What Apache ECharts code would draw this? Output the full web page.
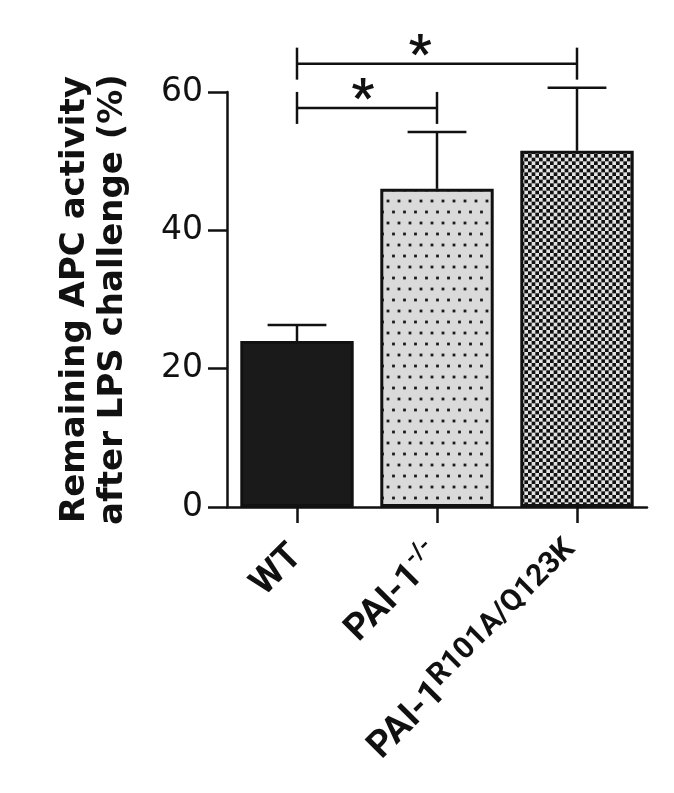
<!DOCTYPE html>
<html>
<head>
<meta charset="utf-8">
<script src="https://cdn.jsdelivr.net/npm/echarts@6/dist/echarts.min.js"></script>
<style>
  html, body { margin: 0; padding: 0; background: #fff; }
  #chart { width: 674px; height: 793px; }
</style>
</head>
<body>
<div id="chart"></div>
<script>
const groups = ['WT', 'PAI-1-/-', 'PAI-1R101A/Q123K'];
const means = [24.0, 46.0, 51.5];
const sems = [2.3, 8.2, 9.1];
const yTicks = [0, 20, 40, 60];
// significance pairs: [from, to, label]
const sigPairs = [[0, 1, '*'], [0, 2, '*']];

const sansFont = 'Roboto';

// bar fill patterns
function dotPattern() {
    const c = document.createElement('canvas');
    c.width = 22; c.height = 22;
    const ctx = c.getContext('2d');
    ctx.fillStyle = '#dadada';
    ctx.fillRect(0, 0, 22, 22);
    ctx.fillStyle = '#1a1a1a';
    [[3, 3], [14, 3], [8.5, 14], [19.5, 14]].forEach(p => ctx.fillRect(p[0] - 1.4, p[1] - 1.4, 2.8, 2.8));
    return c;
}
function checkPattern() {
    const c = document.createElement('canvas');
    c.width = 22; c.height = 22;
    const ctx = c.getContext('2d');
    ctx.fillStyle = '#e2e2e2';
    ctx.fillRect(0, 0, 22, 22);
    ctx.fillStyle = '#111';
    const s = 22 / 6;
    for (let i = 0; i < 6; i++) {
        for (let j = 0; j < 6; j++) {
            if ((i + j) % 2 === 0) ctx.fillRect(i * s, j * s, s, s);
        }
    }
    return c;
}

const fills = ['#1a1a1a', { image: dotPattern(), repeat: 'repeat' }, { image: checkPattern(), repeat: 'repeat' }];

const errData = means.map((m, i) => [i, m, m + sems[i]]);
const tops = errData.map(d => d[2]);
const sigData = sigPairs.map(p => {
    let maxTop = 0;
    for (let k = p[0]; k <= p[1]; k++) maxTop = Math.max(maxTop, tops[k]);
    return [p[0], p[1], maxTop + 3.5, p[2]];
});

const chart = echarts.init(document.getElementById('chart'));

chart.setOption({
    backgroundColor: '#fff',
    animation: false,
    grid: { left: 227, top: 92, right: 27, bottom: 286, containLabel: false, outerBoundsMode: 'none' },
    xAxis: {
        type: 'category',
        data: groups,
        axisLine: { show: true, lineStyle: { color: '#111', width: 2.5 } },
        axisTick: { show: true, alignWithLabel: true, length: 16, lineStyle: { color: '#111', width: 2.5 } },
        axisLabel: {
            interval: 0,
            rotate: 45,
            margin: 44,
            color: '#111',
            fontFamily: sansFont,
            fontWeight: 'bold',
            fontSize: 37,
            formatter: function(v) {
                if (v === 'PAI-1-/-') return '{m|PAI-1}{s|-/-}';
                if (v === 'PAI-1R101A/Q123K') return '{m|PAI-1}{t|R101A/Q123K}';
                return '{m|' + v + '}';
            },
            rich: {
                m: { fontFamily: sansFont, fontWeight: 'bold', fontSize: 37, lineHeight: 48, color: '#111' },
                s: { fontFamily: sansFont, fontWeight: 'bold', fontSize: 24, verticalAlign: 'top', lineHeight: 48, color: '#111' },
                t: { fontFamily: sansFont, fontWeight: 'bold', fontSize: 30, verticalAlign: 'top', lineHeight: 48, color: '#111' }
            }
        }
    },
    yAxis: {
        type: 'value',
        min: yTicks[0],
        max: yTicks[yTicks.length - 1],
        interval: 20,
        name: 'Remaining APC activity\nafter LPS challenge (%)',
        nameLocation: 'middle',
        nameRotate: 90,
        nameGap: 95,
        nameTextStyle: {
            fontFamily: 'DejaVu Sans',
            fontWeight: 'bold',
            fontSize: 34,
            lineHeight: 38,
            color: '#111'
        },
        splitLine: { show: false },
        axisLine: { show: true, lineStyle: { color: '#111', width: 2.5 } },
        axisTick: { show: true, length: 19, lineStyle: { color: '#111', width: 2.5 } },
        axisLabel: { margin: 24, color: '#111', fontFamily: 'DejaVu Sans', fontSize: 33 }
    },
    series: [
        {
            type: 'bar',
            barWidth: '81%',
            data: means.map((m, i) => ({
                value: m,
                itemStyle: { color: fills[i], borderColor: '#111', borderWidth: 3 }
            })),
            z: 2
        },
        {
            // error bars (upper only)
            type: 'custom',
            data: errData,
            z: 3,
            renderItem: function(params, api) {
                const base = api.coord([api.value(0), api.value(1)]);
                const top = api.coord([api.value(0), api.value(2)]);
                const hw = api.size([1, 0])[0] * 0.21;
                const style = { stroke: '#111', lineWidth: 2.5 };
                return {
                    type: 'group',
                    children: [
                        { type: 'line', shape: { x1: base[0], y1: base[1], x2: top[0], y2: top[1] }, style: style },
                        { type: 'line', shape: { x1: top[0] - hw, y1: top[1], x2: top[0] + hw, y2: top[1] }, style: style }
                    ]
                };
            }
        },
        {
            // significance brackets
            type: 'custom',
            data: sigData,
            z: 3,
            clip: false,
            renderItem: function(params, api) {
                const a = api.coord([api.value(0), api.value(2)]);
                const b = api.coord([api.value(1), api.value(2)]);
                const style = { stroke: '#111', lineWidth: 2.5 };
                const h = 16;
                const starX = a[0] + (b[0] - a[0]) * (params.dataIndex === 1 ? 0.44 : 0.47);
                return {
                    type: 'group',
                    children: [
                        { type: 'line', shape: { x1: a[0], y1: a[1], x2: b[0], y2: b[1] }, style: style },
                        { type: 'line', shape: { x1: a[0], y1: a[1] - h, x2: a[0], y2: a[1] + h }, style: style },
                        { type: 'line', shape: { x1: b[0], y1: b[1] - h, x2: b[0], y2: b[1] + h }, style: style },
                        {
                            type: 'text',
                            style: {
                                text: sigData[params.dataIndex][3],
                                x: starX,
                                y: a[1] - 6,
                                align: 'center',
                                verticalAlign: 'middle',
                                fontFamily: sansFont,
                                fontWeight: 'bold',
                                fontSize: 50,
                                fill: '#111'
                            }
                        }
                    ]
                };
            }
        }
    ]
});

window.addEventListener('resize', function() {
    chart.resize();
});
</script>
</body>
</html>
